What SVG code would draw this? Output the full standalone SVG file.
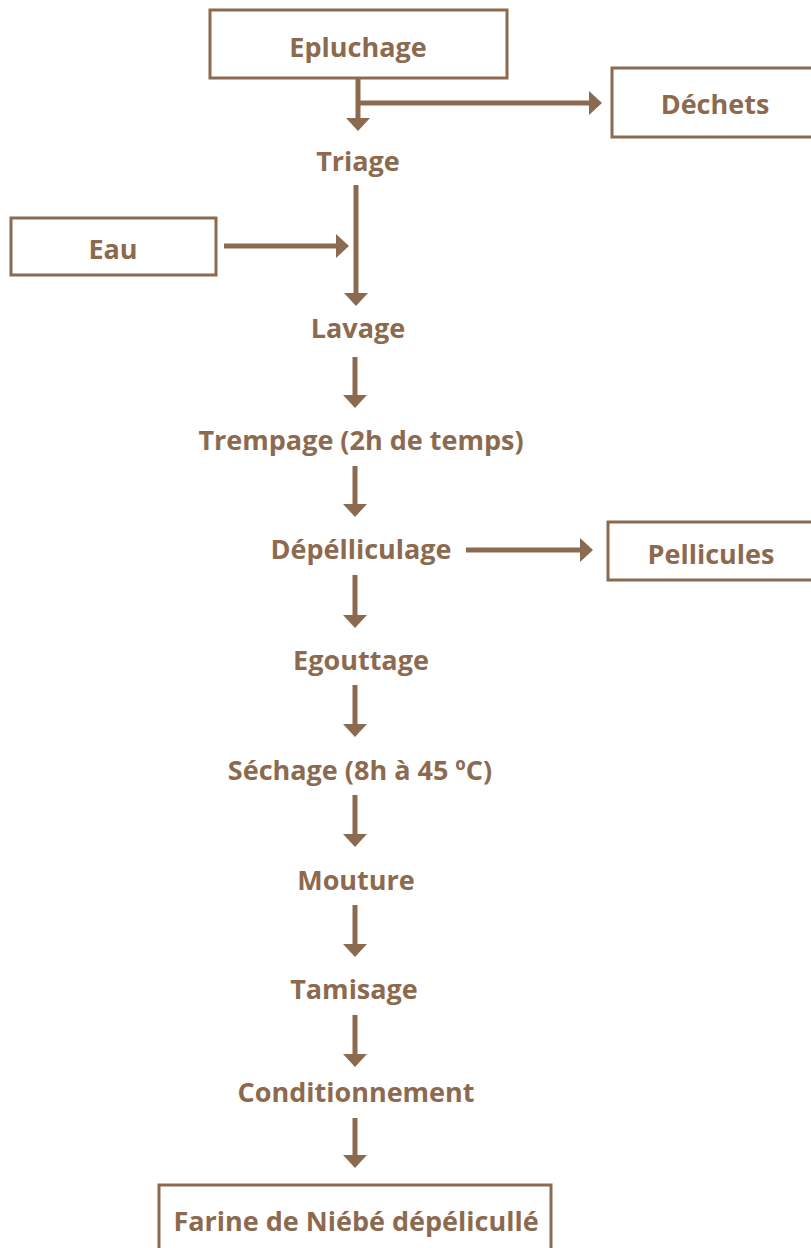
<svg xmlns="http://www.w3.org/2000/svg" width="811" height="1248" viewBox="0 0 811 1248">
<style>
.t{font-family:"Open Sans","Liberation Sans",sans-serif;font-weight:bold;font-size:27px;fill:#8C6A4F;text-anchor:middle}
.b{fill:#fff;stroke:#8C6A4F;stroke-width:3}
.c{stroke:#8C6A4F;stroke-width:5;fill:none}
.h{fill:#8C6A4F}
</style>
<defs>
<polygon id="ad" points="-12,0 12,0 0,13"/>
<polygon id="ar" points="0,-12 0,12 13,0"/>
</defs>
<rect width="811" height="1248" fill="#fff"/>
<g id="connectors">
<line class="c" x1="358" y1="78" x2="358" y2="120"/>
<use href="#ad" class="h" x="358" y="118"/>
<line class="c" x1="358" y1="103" x2="591" y2="103"/>
<use href="#ar" class="h" x="589" y="103"/>
<line class="c" x1="356" y1="185" x2="356" y2="295"/>
<use href="#ad" class="h" x="356" y="293"/>
<line class="c" x1="224" y1="246" x2="338" y2="246"/>
<use href="#ar" class="h" x="336" y="246"/>
<line class="c" x1="355" y1="357" x2="355" y2="397"/>
<use href="#ad" class="h" x="355" y="395"/>
<line class="c" x1="355" y1="466" x2="355" y2="506"/>
<use href="#ad" class="h" x="355" y="504"/>
<line class="c" x1="466" y1="550" x2="582" y2="550"/>
<use href="#ar" class="h" x="580" y="550"/>
<line class="c" x1="355" y1="575" x2="355" y2="617"/>
<use href="#ad" class="h" x="355" y="615"/>
<line class="c" x1="355" y1="685" x2="355" y2="726"/>
<use href="#ad" class="h" x="355" y="724"/>
<line class="c" x1="355" y1="795" x2="355" y2="836"/>
<use href="#ad" class="h" x="355" y="834"/>
<line class="c" x1="355" y1="905" x2="355" y2="946"/>
<use href="#ad" class="h" x="355" y="944"/>
<line class="c" x1="355" y1="1015" x2="355" y2="1056"/>
<use href="#ad" class="h" x="355" y="1054"/>
<line class="c" x1="355" y1="1118" x2="355" y2="1157"/>
<use href="#ad" class="h" x="355" y="1155"/>
</g>
<g id="n-epluchage"><rect class="b" x="210" y="10" width="297" height="68"/><text class="t" x="358" y="57">Epluchage</text></g>
<g id="n-dechets"><rect class="b" x="612" y="68" width="210" height="69"/><text class="t" x="715" y="114">Déchets</text></g>
<g id="n-triage"><text class="t" x="358" y="171">Triage</text></g>
<g id="n-eau"><rect class="b" x="11" y="218" width="205" height="57"/><text class="t" x="113" y="259">Eau</text></g>
<g id="n-lavage"><text class="t" x="358" y="338">Lavage</text></g>
<g id="n-trempage"><text class="t" x="361" y="450">Trempage (2h de temps)</text></g>
<g id="n-depelliculage"><text class="t" x="361" y="559">Dépélliculage</text></g>
<g id="n-pellicules"><rect class="b" x="608" y="522" width="210" height="58"/><text class="t" x="711" y="564">Pellicules</text></g>
<g id="n-egouttage"><text class="t" x="361" y="670">Egouttage</text></g>
<g id="n-sechage"><text class="t" x="360" y="780">Séchage (8h à 45 ºC)</text></g>
<g id="n-mouture"><text class="t" x="356" y="890">Mouture</text></g>
<g id="n-tamisage"><text class="t" x="354" y="999">Tamisage</text></g>
<g id="n-conditionnement"><text class="t" x="356" y="1102">Conditionnement</text></g>
<g id="n-farine"><rect class="b" x="159" y="1185" width="392" height="70"/><text class="t" x="356" y="1231">Farine de Niébé dépélicullé</text></g>
</svg>
